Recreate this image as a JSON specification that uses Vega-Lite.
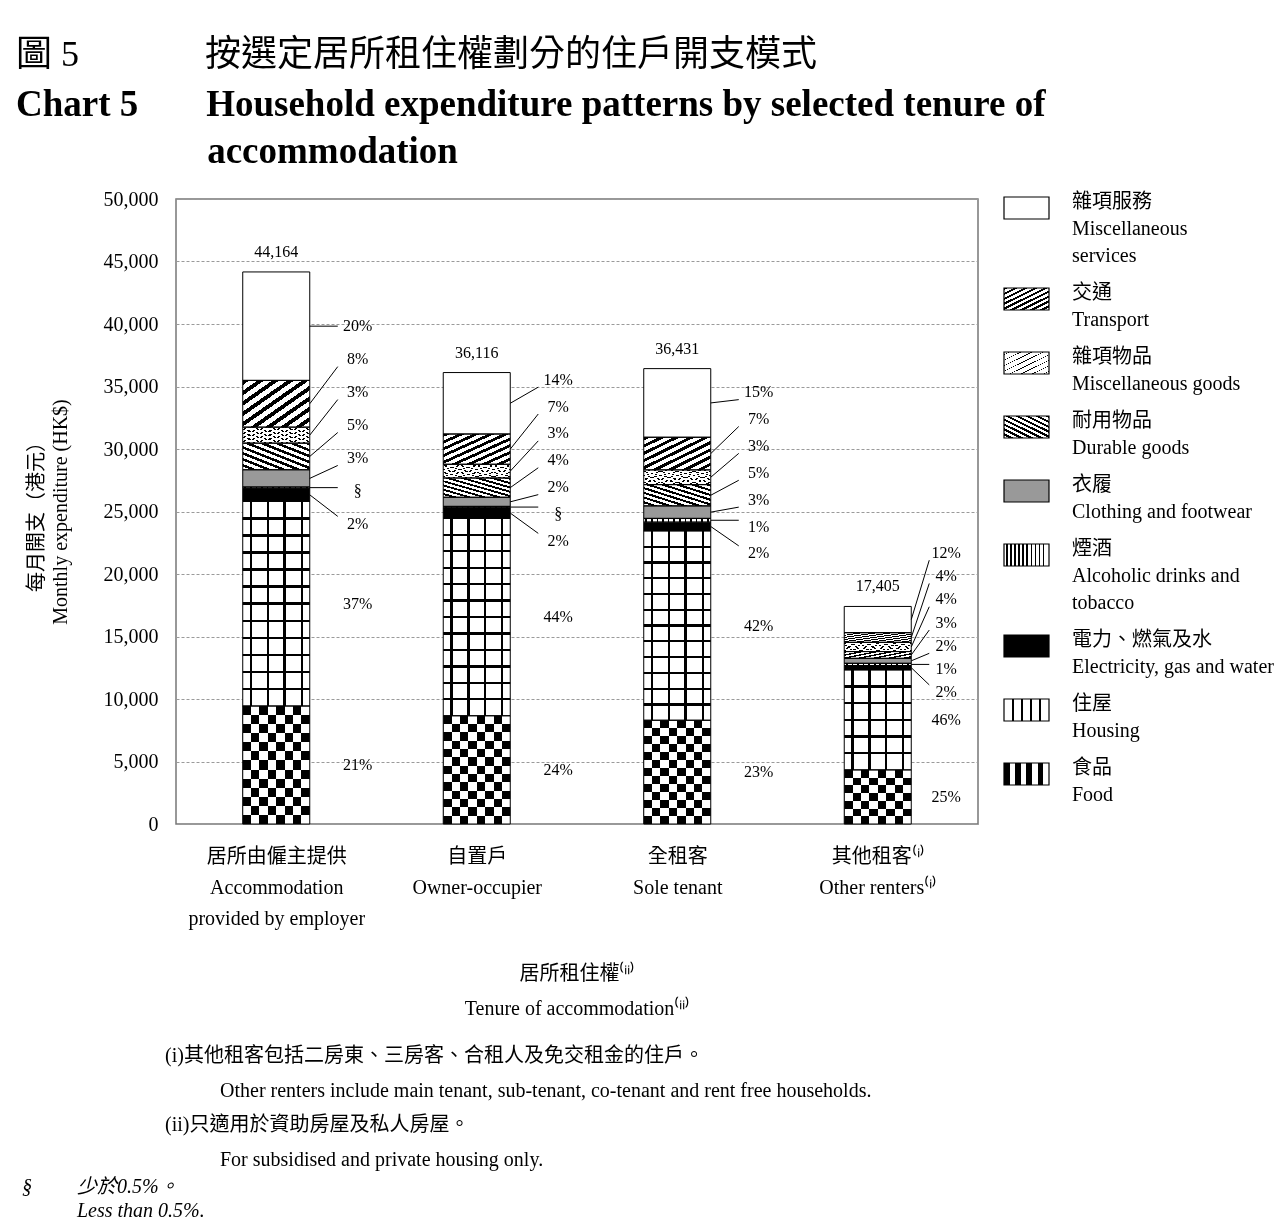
{
  "$schema": "https://vega.github.io/schema/vega-lite/v6.json",
  "width": 802,
  "height": 625,
  "autosize": {"type": "none"},
  "padding": {"left": 176, "top": 199, "right": 309, "bottom": 397},
  "background": "white",
  "title": {
    "text": "圖 5\u2003\u2003\u2003\u2002按選定居所租住權劃分的住戶開支模式",
    "subtitle": ["Chart 5\u2003\u2002\u2004Household expenditure patterns by selected tenure of", "\u200b\u2003\u2003\u2003\u2003\u2003\u2006accommodation"],
    "anchor": "start",
    "frame": "group",
    "dx": -160,
    "offset": 14,
    "font": "'Liberation Serif','Noto Sans CJK TC'",
    "fontSize": 36,
    "fontWeight": "normal",
    "color": "#000",
    "subtitleFont": "'Liberation Serif','Noto Sans CJK TC'",
    "subtitleFontSize": 37,
    "subtitleFontWeight": "bold",
    "subtitleColor": "#000",
    "subtitleLineHeight": 47,
    "subtitlePadding": 13
  },
  "config": {
    "font": "'Liberation Serif','Noto Sans CJK TC'",
    "view": {"stroke": "#777", "strokeWidth": 1.5},
    "axis": {"labelColor": "#000", "titleColor": "#000"},
    "style": {"guide-label": {"lineHeight": 27}}
  },
  "layer": [
    {
      "data": {
        "values": [
          {"tenure": "employer", "cat": "food", "value": 9440},
          {"tenure": "employer", "cat": "housing", "value": 16370},
          {"tenure": "employer", "cat": "utilities", "value": 1050},
          {"tenure": "employer", "cat": "alcohol", "value": 100},
          {"tenure": "employer", "cat": "clothing", "value": 1380},
          {"tenure": "employer", "cat": "durable", "value": 2130},
          {"tenure": "employer", "cat": "miscgoods", "value": 1280},
          {"tenure": "employer", "cat": "transport", "value": 3740},
          {"tenure": "employer", "cat": "miscservices", "value": 8674},
          {"tenure": "owner", "cat": "food", "value": 8660},
          {"tenure": "owner", "cat": "housing", "value": 15790},
          {"tenure": "owner", "cat": "utilities", "value": 850},
          {"tenure": "owner", "cat": "alcohol", "value": 110},
          {"tenure": "owner", "cat": "clothing", "value": 730},
          {"tenure": "owner", "cat": "durable", "value": 1540},
          {"tenure": "owner", "cat": "miscgoods", "value": 1100},
          {"tenure": "owner", "cat": "transport", "value": 2420},
          {"tenure": "owner", "cat": "miscservices", "value": 4916},
          {"tenure": "sole", "cat": "food", "value": 8300},
          {"tenure": "sole", "cat": "housing", "value": 15150},
          {"tenure": "sole", "cat": "utilities", "value": 700},
          {"tenure": "sole", "cat": "alcohol", "value": 300},
          {"tenure": "sole", "cat": "clothing", "value": 1000},
          {"tenure": "sole", "cat": "durable", "value": 1700},
          {"tenure": "sole", "cat": "miscgoods", "value": 1180},
          {"tenure": "sole", "cat": "transport", "value": 2610},
          {"tenure": "sole", "cat": "miscservices", "value": 5491},
          {"tenure": "other", "cat": "food", "value": 4330},
          {"tenure": "other", "cat": "housing", "value": 8000},
          {"tenure": "other", "cat": "utilities", "value": 350},
          {"tenure": "other", "cat": "alcohol", "value": 175},
          {"tenure": "other", "cat": "clothing", "value": 400},
          {"tenure": "other", "cat": "durable", "value": 540},
          {"tenure": "other", "cat": "miscgoods", "value": 740},
          {"tenure": "other", "cat": "transport", "value": 770},
          {"tenure": "other", "cat": "miscservices", "value": 2100}
        ]
      },
      "transform": [
        {"calculate": "indexof(['food','housing','utilities','alcohol','clothing','durable','miscgoods','transport','miscservices'], datum.cat)", "as": "k"},
        {"calculate": "indexof(['employer','owner','sole','other'], datum.tenure)", "as": "t"},
        {"stack": "value", "groupby": ["tenure"], "sort": [{"field": "k", "order": "ascending"}], "as": ["y0", "y1"]},
        {"joinaggregate": [{"op": "sum", "field": "value", "as": "total"}], "groupby": ["tenure"]},
        {"calculate": "datum.k == 1 ? datum.y1 : 0", "as": "htop0"},
        {"calculate": "datum.k == 8 ? (datum.y0 + datum.y1) / 2 : 0", "as": "mmid0"},
        {"joinaggregate": [{"op": "max", "field": "htop0", "as": "htop"}, {"op": "max", "field": "mmid0", "as": "mmid"}], "groupby": ["tenure"]},
        {"calculate": "(datum.y0 + datum.y1) / 2", "as": "mid"},
        {"calculate": "datum.htop - 1800", "as": "lstart"},
        {"calculate": "max(datum.mmid, min(datum.lstart + 12900, datum.total + 4300))", "as": "lend"},
        {"calculate": "datum.k < 2 ? datum.mid : datum.lstart + (datum.k - 2) * (datum.lend - datum.lstart) / 6", "as": "ly"},
        {"calculate": "datum.ly + clamp(datum.mid - datum.ly, -600, 600)", "as": "lineEnd"},
        {"calculate": "datum.value / datum.total < 0.005 ? '§' : format(datum.value / datum.total, '.0%')", "as": "pct"},
        {"calculate": "datum.t - 0.1671", "as": "xl"},
        {"calculate": "datum.t + 0.1671", "as": "xr"},
        {"calculate": "datum.xr + (datum.t == 3 ? 0.0898 : 0.1397)", "as": "xline"},
        {"calculate": "datum.xr + (datum.t == 3 ? 0.1746 : 0.2394)", "as": "xlab"}
      ],
      "layer": [
        {
          "encoding": {
            "x": {
              "field": "xl", "type": "quantitative",
              "scale": {"domain": [-0.5, 3.5], "nice": false, "zero": false},
              "axis": {
                "values": [0, 1, 2, 3],
                "labelExpr": "datum.value == 0 ? ['居所由僱主提供', 'Accommodation', 'provided by employer'] : datum.value == 1 ? ['自置戶', 'Owner-occupier'] : datum.value == 2 ? ['全租客', 'Sole tenant'] : ['其他租客⁽ⁱ⁾', 'Other renters⁽ⁱ⁾']",
                "labelFontSize": 20, "labelLineHeight": 31, "labelPadding": 22, "labelLimit": 320,
                "labelOverlap": false, "labelFlush": false,
                "ticks": false, "domain": false, "grid": false,
                "title": ["居所租住權⁽ⁱⁱ⁾", "Tenure of accommodation⁽ⁱⁱ⁾"],
                "titleFontSize": 20, "titleFontWeight": "normal", "titleLineHeight": 35, "titlePadding": 35
              }
            },
            "x2": {"field": "xr"},
            "y": {
              "field": "y0", "type": "quantitative",
              "scale": {"domain": [0, 50000], "nice": false},
              "axis": {
                "values": [0, 5000, 10000, 15000, 20000, 25000, 30000, 35000, 40000, 45000, 50000],
                "labelExpr": "format(datum.value, ',')",
                "labelFontSize": 20, "labelPadding": 18,
                "ticks": false, "domain": false,
                "grid": true, "gridColor": "#9a9a9a", "gridDash": [3, 2], "gridWidth": 1,
                "title": ["每月開支（港元）", "Monthly expenditure (HK$)"],
                "titleFontSize": 20, "titleFontWeight": "normal", "titleLineHeight": 24, "titlePadding": 33
              }
            },
            "y2": {"field": "y1"}
          },
          "layer": [
            {
              "mark": {"type": "bar"},
              "encoding": {
                "fill": {
                  "field": "cat", "type": "nominal",
                  "scale": {
                    "range": ["#ffffff", "#999999", "#ffffff", "#ffffff", "#ffffff", "#ffffff", "#ffffff", "#ffffff", "#000000"]
                  },
                  "legend": null
                }
              }
            },
            {
              "transform": [{"filter": "datum.k == 0"}],
              "mark": {"type": "bar", "fill": {"gradient": "linear", "x1": 0, "y1": 0, "x2": 1, "y2": 0, "stops": [{"offset": 0, "color": "#000"}, {"offset": 0.125, "color": "#000"}, {"offset": 0.125, "color": "#fff"}, {"offset": 0.25, "color": "#fff"}, {"offset": 0.25, "color": "#000"}, {"offset": 0.375, "color": "#000"}, {"offset": 0.375, "color": "#fff"}, {"offset": 0.5, "color": "#fff"}, {"offset": 0.5, "color": "#000"}, {"offset": 0.625, "color": "#000"}, {"offset": 0.625, "color": "#fff"}, {"offset": 0.75, "color": "#fff"}, {"offset": 0.75, "color": "#000"}, {"offset": 0.875, "color": "#000"}, {"offset": 0.875, "color": "#fff"}, {"offset": 1, "color": "#fff"}]}}
            },
            {
              "transform": [{"filter": "datum.k == 0 && datum.t < 3"}],
              "mark": {"type": "bar", "blend": "difference", "fill": {"gradient": "linear", "x1": 0, "y1": 0, "x2": 0, "y2": 1, "stops": [{"offset": 0, "color": "#000"}, {"offset": 0.0769, "color": "#000"}, {"offset": 0.0769, "color": "#fff"}, {"offset": 0.1538, "color": "#fff"}, {"offset": 0.1538, "color": "#000"}, {"offset": 0.2308, "color": "#000"}, {"offset": 0.2308, "color": "#fff"}, {"offset": 0.3077, "color": "#fff"}, {"offset": 0.3077, "color": "#000"}, {"offset": 0.3846, "color": "#000"}, {"offset": 0.3846, "color": "#fff"}, {"offset": 0.4615, "color": "#fff"}, {"offset": 0.4615, "color": "#000"}, {"offset": 0.5385, "color": "#000"}, {"offset": 0.5385, "color": "#fff"}, {"offset": 0.6154, "color": "#fff"}, {"offset": 0.6154, "color": "#000"}, {"offset": 0.6923, "color": "#000"}, {"offset": 0.6923, "color": "#fff"}, {"offset": 0.7692, "color": "#fff"}, {"offset": 0.7692, "color": "#000"}, {"offset": 0.8462, "color": "#000"}, {"offset": 0.8462, "color": "#fff"}, {"offset": 0.9231, "color": "#fff"}, {"offset": 0.9231, "color": "#000"}, {"offset": 1, "color": "#000"}]}}
            },
            {
              "transform": [{"filter": "datum.k == 0 && datum.t == 3"}],
              "mark": {"type": "bar", "blend": "difference", "fill": {"gradient": "linear", "x1": 0, "y1": 0, "x2": 0, "y2": 1, "stops": [{"offset": 0, "color": "#000"}, {"offset": 0.1429, "color": "#000"}, {"offset": 0.1429, "color": "#fff"}, {"offset": 0.2857, "color": "#fff"}, {"offset": 0.2857, "color": "#000"}, {"offset": 0.4286, "color": "#000"}, {"offset": 0.4286, "color": "#fff"}, {"offset": 0.5714, "color": "#fff"}, {"offset": 0.5714, "color": "#000"}, {"offset": 0.7143, "color": "#000"}, {"offset": 0.7143, "color": "#fff"}, {"offset": 0.8571, "color": "#fff"}, {"offset": 0.8571, "color": "#000"}, {"offset": 1, "color": "#000"}]}}
            },
            {
              "transform": [{"filter": "datum.k == 1"}],
              "mark": {"type": "bar", "fill": {"gradient": "linear", "x1": 0, "y1": 0, "x2": 1, "y2": 0, "stops": [{"offset": 0, "color": "#fff"}, {"offset": 0.105, "color": "#fff"}, {"offset": 0.105, "color": "#000"}, {"offset": 0.142, "color": "#000"}, {"offset": 0.142, "color": "#fff"}, {"offset": 0.355, "color": "#fff"}, {"offset": 0.355, "color": "#000"}, {"offset": 0.392, "color": "#000"}, {"offset": 0.392, "color": "#fff"}, {"offset": 0.608, "color": "#fff"}, {"offset": 0.608, "color": "#000"}, {"offset": 0.645, "color": "#000"}, {"offset": 0.645, "color": "#fff"}, {"offset": 0.862, "color": "#fff"}, {"offset": 0.862, "color": "#000"}, {"offset": 0.899, "color": "#000"}, {"offset": 0.899, "color": "#fff"}, {"offset": 1, "color": "#fff"}]}}
            },
            {
              "transform": [{"filter": "datum.k == 1 && datum.t < 3"}],
              "mark": {"type": "bar", "blend": "multiply", "fill": {"gradient": "linear", "x1": 0, "y1": 0, "x2": 0, "y2": 1, "stops": [{"offset": 0, "color": "#fff"}, {"offset": 0.0773, "color": "#fff"}, {"offset": 0.0773, "color": "#000"}, {"offset": 0.0893, "color": "#000"}, {"offset": 0.0893, "color": "#fff"}, {"offset": 0.1607, "color": "#fff"}, {"offset": 0.1607, "color": "#000"}, {"offset": 0.1727, "color": "#000"}, {"offset": 0.1727, "color": "#fff"}, {"offset": 0.244, "color": "#fff"}, {"offset": 0.244, "color": "#000"}, {"offset": 0.256, "color": "#000"}, {"offset": 0.256, "color": "#fff"}, {"offset": 0.3273, "color": "#fff"}, {"offset": 0.3273, "color": "#000"}, {"offset": 0.3393, "color": "#000"}, {"offset": 0.3393, "color": "#fff"}, {"offset": 0.4107, "color": "#fff"}, {"offset": 0.4107, "color": "#000"}, {"offset": 0.4227, "color": "#000"}, {"offset": 0.4227, "color": "#fff"}, {"offset": 0.494, "color": "#fff"}, {"offset": 0.494, "color": "#000"}, {"offset": 0.506, "color": "#000"}, {"offset": 0.506, "color": "#fff"}, {"offset": 0.5773, "color": "#fff"}, {"offset": 0.5773, "color": "#000"}, {"offset": 0.5893, "color": "#000"}, {"offset": 0.5893, "color": "#fff"}, {"offset": 0.6607, "color": "#fff"}, {"offset": 0.6607, "color": "#000"}, {"offset": 0.6727, "color": "#000"}, {"offset": 0.6727, "color": "#fff"}, {"offset": 0.744, "color": "#fff"}, {"offset": 0.744, "color": "#000"}, {"offset": 0.756, "color": "#000"}, {"offset": 0.756, "color": "#fff"}, {"offset": 0.8273, "color": "#fff"}, {"offset": 0.8273, "color": "#000"}, {"offset": 0.8393, "color": "#000"}, {"offset": 0.8393, "color": "#fff"}, {"offset": 0.9107, "color": "#fff"}, {"offset": 0.9107, "color": "#000"}, {"offset": 0.9227, "color": "#000"}, {"offset": 0.9227, "color": "#fff"}, {"offset": 1, "color": "#fff"}]}}
            },
            {
              "transform": [{"filter": "datum.k == 1 && datum.t == 3"}],
              "mark": {"type": "bar", "blend": "multiply", "fill": {"gradient": "linear", "x1": 0, "y1": 0, "x2": 0, "y2": 1, "stops": [{"offset": 0, "color": "#fff"}, {"offset": 0.1547, "color": "#fff"}, {"offset": 0.1547, "color": "#000"}, {"offset": 0.1787, "color": "#000"}, {"offset": 0.1787, "color": "#fff"}, {"offset": 0.3213, "color": "#fff"}, {"offset": 0.3213, "color": "#000"}, {"offset": 0.3453, "color": "#000"}, {"offset": 0.3453, "color": "#fff"}, {"offset": 0.488, "color": "#fff"}, {"offset": 0.488, "color": "#000"}, {"offset": 0.512, "color": "#000"}, {"offset": 0.512, "color": "#fff"}, {"offset": 0.6547, "color": "#fff"}, {"offset": 0.6547, "color": "#000"}, {"offset": 0.6787, "color": "#000"}, {"offset": 0.6787, "color": "#fff"}, {"offset": 0.8213, "color": "#fff"}, {"offset": 0.8213, "color": "#000"}, {"offset": 0.8453, "color": "#000"}, {"offset": 0.8453, "color": "#fff"}, {"offset": 1, "color": "#fff"}]}}
            },
            {
              "transform": [{"filter": "datum.k == 3"}],
              "mark": {"type": "bar", "fill": {"gradient": "linear", "x1": 0, "y1": 0, "x2": 1, "y2": 0, "stops": [{"offset": 0, "color": "#fff"}, {"offset": 0.025, "color": "#fff"}, {"offset": 0.025, "color": "#000"}, {"offset": 0.05, "color": "#000"}, {"offset": 0.05, "color": "#fff"}, {"offset": 0.1083, "color": "#fff"}, {"offset": 0.1083, "color": "#000"}, {"offset": 0.1333, "color": "#000"}, {"offset": 0.1333, "color": "#fff"}, {"offset": 0.1917, "color": "#fff"}, {"offset": 0.1917, "color": "#000"}, {"offset": 0.2167, "color": "#000"}, {"offset": 0.2167, "color": "#fff"}, {"offset": 0.275, "color": "#fff"}, {"offset": 0.275, "color": "#000"}, {"offset": 0.3, "color": "#000"}, {"offset": 0.3, "color": "#fff"}, {"offset": 0.3583, "color": "#fff"}, {"offset": 0.3583, "color": "#000"}, {"offset": 0.3833, "color": "#000"}, {"offset": 0.3833, "color": "#fff"}, {"offset": 0.4417, "color": "#fff"}, {"offset": 0.4417, "color": "#000"}, {"offset": 0.4667, "color": "#000"}, {"offset": 0.4667, "color": "#fff"}, {"offset": 0.525, "color": "#fff"}, {"offset": 0.525, "color": "#000"}, {"offset": 0.55, "color": "#000"}, {"offset": 0.55, "color": "#fff"}, {"offset": 0.6083, "color": "#fff"}, {"offset": 0.6083, "color": "#000"}, {"offset": 0.6333, "color": "#000"}, {"offset": 0.6333, "color": "#fff"}, {"offset": 0.6917, "color": "#fff"}, {"offset": 0.6917, "color": "#000"}, {"offset": 0.7167, "color": "#000"}, {"offset": 0.7167, "color": "#fff"}, {"offset": 0.775, "color": "#fff"}, {"offset": 0.775, "color": "#000"}, {"offset": 0.8, "color": "#000"}, {"offset": 0.8, "color": "#fff"}, {"offset": 0.8583, "color": "#fff"}, {"offset": 0.8583, "color": "#000"}, {"offset": 0.8833, "color": "#000"}, {"offset": 0.8833, "color": "#fff"}, {"offset": 0.9417, "color": "#fff"}, {"offset": 0.9417, "color": "#000"}, {"offset": 0.9667, "color": "#000"}, {"offset": 0.9667, "color": "#fff"}, {"offset": 1, "color": "#fff"}]}}
            },
            {
              "transform": [{"filter": "datum.k == 5"}],
              "mark": {"type": "bar", "fill": {"gradient": "linear", "x1": 1, "y1": 0, "x2": 0, "y2": 1, "stops": [{"offset": 0, "color": "#000"}, {"offset": 0.05, "color": "#000"}, {"offset": 0.05, "color": "#fff"}, {"offset": 0.1111, "color": "#fff"}, {"offset": 0.1111, "color": "#000"}, {"offset": 0.1611, "color": "#000"}, {"offset": 0.1611, "color": "#fff"}, {"offset": 0.2222, "color": "#fff"}, {"offset": 0.2222, "color": "#000"}, {"offset": 0.2722, "color": "#000"}, {"offset": 0.2722, "color": "#fff"}, {"offset": 0.3333, "color": "#fff"}, {"offset": 0.3333, "color": "#000"}, {"offset": 0.3833, "color": "#000"}, {"offset": 0.3833, "color": "#fff"}, {"offset": 0.4444, "color": "#fff"}, {"offset": 0.4444, "color": "#000"}, {"offset": 0.4944, "color": "#000"}, {"offset": 0.4944, "color": "#fff"}, {"offset": 0.5556, "color": "#fff"}, {"offset": 0.5556, "color": "#000"}, {"offset": 0.6056, "color": "#000"}, {"offset": 0.6056, "color": "#fff"}, {"offset": 0.6667, "color": "#fff"}, {"offset": 0.6667, "color": "#000"}, {"offset": 0.7167, "color": "#000"}, {"offset": 0.7167, "color": "#fff"}, {"offset": 0.7778, "color": "#fff"}, {"offset": 0.7778, "color": "#000"}, {"offset": 0.8278, "color": "#000"}, {"offset": 0.8278, "color": "#fff"}, {"offset": 0.8889, "color": "#fff"}, {"offset": 0.8889, "color": "#000"}, {"offset": 0.9389, "color": "#000"}, {"offset": 0.9389, "color": "#fff"}, {"offset": 1, "color": "#fff"}]}}
            },
            {
              "transform": [{"filter": "datum.k == 6"}],
              "mark": {"type": "bar", "fill": {"gradient": "linear", "x1": 0, "y1": 0, "x2": 1, "y2": 1, "stops": [{"offset": 0, "color": "#fff"}, {"offset": 0.0545, "color": "#fff"}, {"offset": 0.0545, "color": "#000"}, {"offset": 0.0705, "color": "#000"}, {"offset": 0.0705, "color": "#fff"}, {"offset": 0.1795, "color": "#fff"}, {"offset": 0.1795, "color": "#000"}, {"offset": 0.1955, "color": "#000"}, {"offset": 0.1955, "color": "#fff"}, {"offset": 0.3045, "color": "#fff"}, {"offset": 0.3045, "color": "#000"}, {"offset": 0.3205, "color": "#000"}, {"offset": 0.3205, "color": "#fff"}, {"offset": 0.4295, "color": "#fff"}, {"offset": 0.4295, "color": "#000"}, {"offset": 0.4455, "color": "#000"}, {"offset": 0.4455, "color": "#fff"}, {"offset": 0.5545, "color": "#fff"}, {"offset": 0.5545, "color": "#000"}, {"offset": 0.5705, "color": "#000"}, {"offset": 0.5705, "color": "#fff"}, {"offset": 0.6795, "color": "#fff"}, {"offset": 0.6795, "color": "#000"}, {"offset": 0.6955, "color": "#000"}, {"offset": 0.6955, "color": "#fff"}, {"offset": 0.8045, "color": "#fff"}, {"offset": 0.8045, "color": "#000"}, {"offset": 0.8205, "color": "#000"}, {"offset": 0.8205, "color": "#fff"}, {"offset": 0.9295, "color": "#fff"}, {"offset": 0.9295, "color": "#000"}, {"offset": 0.9455, "color": "#000"}, {"offset": 0.9455, "color": "#fff"}, {"offset": 1, "color": "#fff"}]}}
            },
            {
              "transform": [{"filter": "datum.k == 6"}],
              "mark": {"type": "bar", "blend": "multiply", "fill": {"gradient": "linear", "x1": 1, "y1": 0, "x2": 0, "y2": 1, "stops": [{"offset": 0, "color": "#fff"}, {"offset": 0.0545, "color": "#fff"}, {"offset": 0.0545, "color": "#000"}, {"offset": 0.0705, "color": "#000"}, {"offset": 0.0705, "color": "#fff"}, {"offset": 0.1795, "color": "#fff"}, {"offset": 0.1795, "color": "#000"}, {"offset": 0.1955, "color": "#000"}, {"offset": 0.1955, "color": "#fff"}, {"offset": 0.3045, "color": "#fff"}, {"offset": 0.3045, "color": "#000"}, {"offset": 0.3205, "color": "#000"}, {"offset": 0.3205, "color": "#fff"}, {"offset": 0.4295, "color": "#fff"}, {"offset": 0.4295, "color": "#000"}, {"offset": 0.4455, "color": "#000"}, {"offset": 0.4455, "color": "#fff"}, {"offset": 0.5545, "color": "#fff"}, {"offset": 0.5545, "color": "#000"}, {"offset": 0.5705, "color": "#000"}, {"offset": 0.5705, "color": "#fff"}, {"offset": 0.6795, "color": "#fff"}, {"offset": 0.6795, "color": "#000"}, {"offset": 0.6955, "color": "#000"}, {"offset": 0.6955, "color": "#fff"}, {"offset": 0.8045, "color": "#fff"}, {"offset": 0.8045, "color": "#000"}, {"offset": 0.8205, "color": "#000"}, {"offset": 0.8205, "color": "#fff"}, {"offset": 0.9295, "color": "#fff"}, {"offset": 0.9295, "color": "#000"}, {"offset": 0.9455, "color": "#000"}, {"offset": 0.9455, "color": "#fff"}, {"offset": 1, "color": "#fff"}]}}
            },
            {
              "transform": [{"filter": "datum.k == 7"}],
              "mark": {"type": "bar", "fill": {"gradient": "linear", "x1": 0, "y1": 0, "x2": 1, "y2": 1, "stops": [{"offset": 0, "color": "#000"}, {"offset": 0.05, "color": "#000"}, {"offset": 0.05, "color": "#fff"}, {"offset": 0.1111, "color": "#fff"}, {"offset": 0.1111, "color": "#000"}, {"offset": 0.1611, "color": "#000"}, {"offset": 0.1611, "color": "#fff"}, {"offset": 0.2222, "color": "#fff"}, {"offset": 0.2222, "color": "#000"}, {"offset": 0.2722, "color": "#000"}, {"offset": 0.2722, "color": "#fff"}, {"offset": 0.3333, "color": "#fff"}, {"offset": 0.3333, "color": "#000"}, {"offset": 0.3833, "color": "#000"}, {"offset": 0.3833, "color": "#fff"}, {"offset": 0.4444, "color": "#fff"}, {"offset": 0.4444, "color": "#000"}, {"offset": 0.4944, "color": "#000"}, {"offset": 0.4944, "color": "#fff"}, {"offset": 0.5556, "color": "#fff"}, {"offset": 0.5556, "color": "#000"}, {"offset": 0.6056, "color": "#000"}, {"offset": 0.6056, "color": "#fff"}, {"offset": 0.6667, "color": "#fff"}, {"offset": 0.6667, "color": "#000"}, {"offset": 0.7167, "color": "#000"}, {"offset": 0.7167, "color": "#fff"}, {"offset": 0.7778, "color": "#fff"}, {"offset": 0.7778, "color": "#000"}, {"offset": 0.8278, "color": "#000"}, {"offset": 0.8278, "color": "#fff"}, {"offset": 0.8889, "color": "#fff"}, {"offset": 0.8889, "color": "#000"}, {"offset": 0.9389, "color": "#000"}, {"offset": 0.9389, "color": "#fff"}, {"offset": 1, "color": "#fff"}]}}
            },
            {
              "mark": {"type": "bar", "fill": "#ffffff", "fillOpacity": 0, "stroke": "#000", "strokeWidth": 1}
            }
          ]
        },
        {
          "transform": [{"filter": "datum.k >= 2"}],
          "mark": {"type": "rule", "stroke": "#000", "strokeWidth": 1},
          "encoding": {
            "x": {"field": "xr", "type": "quantitative", "scale": {"domain": [-0.5, 3.5], "nice": false, "zero": false}},
            "x2": {"field": "xline"},
            "y": {"field": "mid", "type": "quantitative", "scale": {"domain": [0, 50000], "nice": false}},
            "y2": {"field": "lineEnd"}
          }
        },
        {
          "mark": {"type": "text", "fontSize": 16, "align": "center", "baseline": "middle", "color": "#000"},
          "encoding": {
            "x": {"field": "xlab", "type": "quantitative", "scale": {"domain": [-0.5, 3.5], "nice": false, "zero": false}},
            "y": {"field": "ly", "type": "quantitative", "scale": {"domain": [0, 50000], "nice": false}},
            "text": {"field": "pct", "type": "nominal"}
          }
        },
        {
          "transform": [{"filter": "datum.k == 8"}],
          "mark": {"type": "text", "fontSize": 16, "align": "center", "baseline": "alphabetic", "dy": -15, "color": "#000"},
          "encoding": {
            "x": {"field": "t", "type": "quantitative", "scale": {"domain": [-0.5, 3.5], "nice": false, "zero": false}},
            "y": {"field": "total", "type": "quantitative", "scale": {"domain": [0, 50000], "nice": false}},
            "text": {"field": "total", "type": "quantitative", "format": ","}
          }
        },
        {
          "transform": [{"calculate": "datum.cat", "as": "category"}],
          "mark": {"type": "point", "opacity": 0},
          "encoding": {
            "fill": {"field": "category", "type": "nominal", "legend": null},
            "shape": {
              "field": "category", "type": "nominal",
              "scale": {
                "domain": ["miscservices", "transport", "miscgoods", "durable", "clothing", "alcohol", "utilities", "housing", "food"],
                "range": ["M-1,-0.489H1V0.489H-1Z", "M-1,-0.489H1V0.489H-1Z", "M-1,-0.489H1V0.489H-1Z", "M-1,-0.489H1V0.489H-1Z", "M-1,-0.489H1V0.489H-1Z", "M-1,-0.489H1V0.489H-1Z", "M-1,-0.489H1V0.489H-1Z", "M-1,-0.489H1V0.489H-1Z", "M-1,-0.489H1V0.489H-1Z"]
              },
              "legend": {
                "orient": "none", "legendX": 827, "legendY": -14.5, "title": null, "padding": 0,
                "direction": "vertical", "columns": 1,
                "symbolSize": 2025, "symbolOpacity": 1,
                "symbolStrokeColor": "#000", "symbolStrokeWidth": 1.2,
                "symbolFillColor": {"expr": "datum.value === 'food' ? {gradient: 'linear', x1: 0, y1: 0, x2: 1, y2: 0, stops: [{offset: 0, color: '#000'}, {offset: 0.125, color: '#000'}, {offset: 0.125, color: '#fff'}, {offset: 0.25, color: '#fff'}, {offset: 0.25, color: '#000'}, {offset: 0.375, color: '#000'}, {offset: 0.375, color: '#fff'}, {offset: 0.5, color: '#fff'}, {offset: 0.5, color: '#000'}, {offset: 0.625, color: '#000'}, {offset: 0.625, color: '#fff'}, {offset: 0.75, color: '#fff'}, {offset: 0.75, color: '#000'}, {offset: 0.875, color: '#000'}, {offset: 0.875, color: '#fff'}, {offset: 1, color: '#fff'}]} : datum.value === 'housing' ? {gradient: 'linear', x1: 0, y1: 0, x2: 1, y2: 0, stops: [{offset: 0, color: '#fff'}, {offset: 0.18, color: '#fff'}, {offset: 0.18, color: '#000'}, {offset: 0.22, color: '#000'}, {offset: 0.22, color: '#fff'}, {offset: 0.38, color: '#fff'}, {offset: 0.38, color: '#000'}, {offset: 0.42, color: '#000'}, {offset: 0.42, color: '#fff'}, {offset: 0.58, color: '#fff'}, {offset: 0.58, color: '#000'}, {offset: 0.62, color: '#000'}, {offset: 0.62, color: '#fff'}, {offset: 0.78, color: '#fff'}, {offset: 0.78, color: '#000'}, {offset: 0.82, color: '#000'}, {offset: 0.82, color: '#fff'}, {offset: 1, color: '#fff'}]} : datum.value === 'alcohol' ? {gradient: 'linear', x1: 0, y1: 0, x2: 1, y2: 0, stops: [{offset: 0, color: '#fff'}, {offset: 0.05, color: '#fff'}, {offset: 0.05, color: '#000'}, {offset: 0.09, color: '#000'}, {offset: 0.09, color: '#fff'}, {offset: 0.14, color: '#fff'}, {offset: 0.14, color: '#000'}, {offset: 0.18, color: '#000'}, {offset: 0.18, color: '#fff'}, {offset: 0.23, color: '#fff'}, {offset: 0.23, color: '#000'}, {offset: 0.27, color: '#000'}, {offset: 0.27, color: '#fff'}, {offset: 0.32, color: '#fff'}, {offset: 0.32, color: '#000'}, {offset: 0.36, color: '#000'}, {offset: 0.36, color: '#fff'}, {offset: 0.41, color: '#fff'}, {offset: 0.41, color: '#000'}, {offset: 0.45, color: '#000'}, {offset: 0.45, color: '#fff'}, {offset: 0.5, color: '#fff'}, {offset: 0.5, color: '#000'}, {offset: 0.54, color: '#000'}, {offset: 0.54, color: '#fff'}, {offset: 0.59, color: '#fff'}, {offset: 0.59, color: '#000'}, {offset: 0.63, color: '#000'}, {offset: 0.63, color: '#fff'}, {offset: 0.68, color: '#fff'}, {offset: 0.68, color: '#000'}, {offset: 0.72, color: '#000'}, {offset: 0.72, color: '#fff'}, {offset: 0.77, color: '#fff'}, {offset: 0.77, color: '#000'}, {offset: 0.81, color: '#000'}, {offset: 0.81, color: '#fff'}, {offset: 0.86, color: '#fff'}, {offset: 0.86, color: '#000'}, {offset: 0.9, color: '#000'}, {offset: 0.9, color: '#fff'}, {offset: 1, color: '#fff'}]} : datum.value === 'durable' ? {gradient: 'linear', x1: 1, y1: 0, x2: 0, y2: 1, stops: [{offset: 0, color: '#000'}, {offset: 0.05, color: '#000'}, {offset: 0.05, color: '#fff'}, {offset: 0.1111, color: '#fff'}, {offset: 0.1111, color: '#000'}, {offset: 0.1611, color: '#000'}, {offset: 0.1611, color: '#fff'}, {offset: 0.2222, color: '#fff'}, {offset: 0.2222, color: '#000'}, {offset: 0.2722, color: '#000'}, {offset: 0.2722, color: '#fff'}, {offset: 0.3333, color: '#fff'}, {offset: 0.3333, color: '#000'}, {offset: 0.3833, color: '#000'}, {offset: 0.3833, color: '#fff'}, {offset: 0.4444, color: '#fff'}, {offset: 0.4444, color: '#000'}, {offset: 0.4944, color: '#000'}, {offset: 0.4944, color: '#fff'}, {offset: 0.5556, color: '#fff'}, {offset: 0.5556, color: '#000'}, {offset: 0.6056, color: '#000'}, {offset: 0.6056, color: '#fff'}, {offset: 0.6667, color: '#fff'}, {offset: 0.6667, color: '#000'}, {offset: 0.7167, color: '#000'}, {offset: 0.7167, color: '#fff'}, {offset: 0.7778, color: '#fff'}, {offset: 0.7778, color: '#000'}, {offset: 0.8278, color: '#000'}, {offset: 0.8278, color: '#fff'}, {offset: 0.8889, color: '#fff'}, {offset: 0.8889, color: '#000'}, {offset: 0.9389, color: '#000'}, {offset: 0.9389, color: '#fff'}, {offset: 1, color: '#fff'}]} : datum.value === 'transport' ? {gradient: 'linear', x1: 0, y1: 0, x2: 1, y2: 1, stops: [{offset: 0, color: '#000'}, {offset: 0.05, color: '#000'}, {offset: 0.05, color: '#fff'}, {offset: 0.1111, color: '#fff'}, {offset: 0.1111, color: '#000'}, {offset: 0.1611, color: '#000'}, {offset: 0.1611, color: '#fff'}, {offset: 0.2222, color: '#fff'}, {offset: 0.2222, color: '#000'}, {offset: 0.2722, color: '#000'}, {offset: 0.2722, color: '#fff'}, {offset: 0.3333, color: '#fff'}, {offset: 0.3333, color: '#000'}, {offset: 0.3833, color: '#000'}, {offset: 0.3833, color: '#fff'}, {offset: 0.4444, color: '#fff'}, {offset: 0.4444, color: '#000'}, {offset: 0.4944, color: '#000'}, {offset: 0.4944, color: '#fff'}, {offset: 0.5556, color: '#fff'}, {offset: 0.5556, color: '#000'}, {offset: 0.6056, color: '#000'}, {offset: 0.6056, color: '#fff'}, {offset: 0.6667, color: '#fff'}, {offset: 0.6667, color: '#000'}, {offset: 0.7167, color: '#000'}, {offset: 0.7167, color: '#fff'}, {offset: 0.7778, color: '#fff'}, {offset: 0.7778, color: '#000'}, {offset: 0.8278, color: '#000'}, {offset: 0.8278, color: '#fff'}, {offset: 0.8889, color: '#fff'}, {offset: 0.8889, color: '#000'}, {offset: 0.9389, color: '#000'}, {offset: 0.9389, color: '#fff'}, {offset: 1, color: '#fff'}]} : datum.value === 'miscgoods' ? {gradient: 'linear', x1: 0, y1: 0, x2: 1, y2: 1, stops: [{offset: 0, color: '#fff'}, {offset: 0.0545, color: '#fff'}, {offset: 0.0545, color: '#000'}, {offset: 0.0705, color: '#000'}, {offset: 0.0705, color: '#fff'}, {offset: 0.1795, color: '#fff'}, {offset: 0.1795, color: '#000'}, {offset: 0.1955, color: '#000'}, {offset: 0.1955, color: '#fff'}, {offset: 0.3045, color: '#fff'}, {offset: 0.3045, color: '#000'}, {offset: 0.3205, color: '#000'}, {offset: 0.3205, color: '#fff'}, {offset: 0.4295, color: '#fff'}, {offset: 0.4295, color: '#000'}, {offset: 0.4455, color: '#000'}, {offset: 0.4455, color: '#fff'}, {offset: 0.5545, color: '#fff'}, {offset: 0.5545, color: '#000'}, {offset: 0.5705, color: '#000'}, {offset: 0.5705, color: '#fff'}, {offset: 0.6795, color: '#fff'}, {offset: 0.6795, color: '#000'}, {offset: 0.6955, color: '#000'}, {offset: 0.6955, color: '#fff'}, {offset: 0.8045, color: '#fff'}, {offset: 0.8045, color: '#000'}, {offset: 0.8205, color: '#000'}, {offset: 0.8205, color: '#fff'}, {offset: 0.9295, color: '#fff'}, {offset: 0.9295, color: '#000'}, {offset: 0.9455, color: '#000'}, {offset: 0.9455, color: '#fff'}, {offset: 1, color: '#fff'}]} : datum.value === 'clothing' ? '#999999' : datum.value === 'utilities' ? '#000000' : '#ffffff'"},
                "labelFontSize": 20, "labelColor": "#000", "labelLimit": 320, "labelOffset": 22,
                "labelBaseline": "alphabetic", "rowPadding": 9,
                "labelExpr": "datum.value == 'miscservices' ? ['雜項服務', 'Miscellaneous', 'services'] : datum.value == 'transport' ? ['交通', 'Transport'] : datum.value == 'miscgoods' ? ['雜項物品', 'Miscellaneous goods'] : datum.value == 'durable' ? ['耐用物品', 'Durable goods'] : datum.value == 'clothing' ? ['衣履', 'Clothing and footwear'] : datum.value == 'alcohol' ? ['煙酒', 'Alcoholic drinks and', 'tobacco'] : datum.value == 'utilities' ? ['電力、燃氣及水', 'Electricity, gas and water'] : datum.value == 'housing' ? ['住屋', 'Housing'] : ['食品', 'Food']"
              }
            }
          }
        }
      ]
    },
    {
      "data": {"values": [{"note": "a"}]},
      "mark": {"type": "point", "opacity": 0},
      "encoding": {
        "size": {
          "field": "note", "type": "ordinal",
          "legend": {
            "orient": "none", "legendX": -11, "legendY": 847, "padding": 0,
            "title": ["(i)其他租客包括二房東、三房客、合租人及免交租金的住戶。", "\u200b\u2003\u2003\u2002\u2005Other renters include main tenant, sub-tenant, co-tenant and rent free households.", "(ii)只適用於資助房屋及私人房屋。", "\u200b\u2003\u2003\u2002\u2005For subsidised and private housing only."],
            "titleFontSize": 20, "titleFontWeight": "normal", "titleColor": "#000", "titleLineHeight": 34.5, "titleLimit": 1200,
            "labelExpr": "''", "symbolOpacity": 0, "symbolStrokeWidth": 0
          }
        }
      }
    },
    {
      "data": {"values": [{"mark": "b"}]},
      "mark": {"type": "point", "opacity": 0},
      "encoding": {
        "strokeWidth": {
          "field": "mark", "type": "ordinal",
          "legend": {
            "orient": "none", "legendX": -154, "legendY": 978, "padding": 0,
            "title": ["§\u2003\u2003\u2005少於0.5%。", "\u200b\u2003\u2003\u2002\u2005Less than 0.5%."],
            "titleFontSize": 20, "titleFontWeight": "normal", "titleFontStyle": "italic", "titleColor": "#000", "titleLineHeight": 24, "titleLimit": 600,
            "labelExpr": "''", "symbolOpacity": 0, "symbolStrokeWidth": 0
          }
        }
      }
    }
  ]
}
